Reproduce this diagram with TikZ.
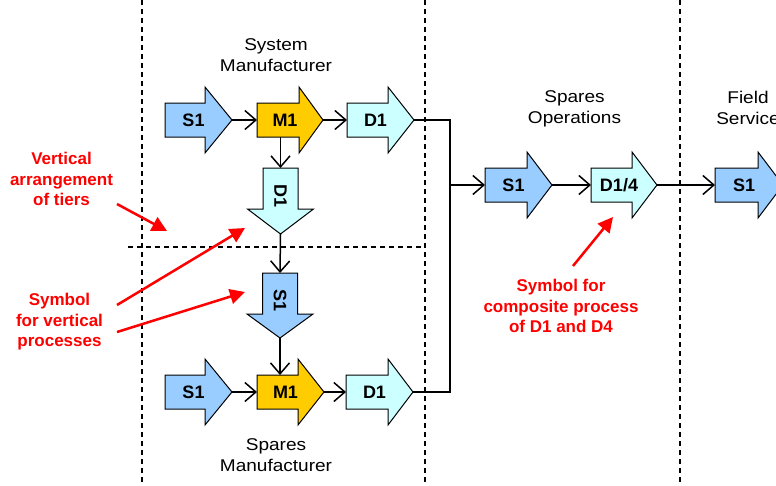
\documentclass[tikz,border=0pt]{standalone}
\usepackage{fontspec}
\setmainfont{Liberation Sans}
\newfontfamily\titlefont[FakeStretch=1.12]{Liberation Sans}
\usetikzlibrary{arrows.meta}
\definecolor{cS}{HTML}{99CCFF}
\definecolor{cM}{HTML}{FFCC00}
\definecolor{cD}{HTML}{CCFFFF}
\definecolor{cR}{HTML}{FF0000}
\tikzset{
  shapeline/.style={draw=black, line width=1pt, line join=miter},
  lbl/.style={font=\fontsize{18}{20}\selectfont\bfseries, inner sep=0pt},
  box/.style={inner sep=0pt, outer sep=0pt},
  conn/.style={line width=1.5pt, -{Straight Barb[length=11pt,width=19pt,line width=1.5pt]}},
  plain/.style={line width=1.5pt},
  divider/.style={line width=1.2pt, dash pattern=on 5pt off 4pt},
  title/.style={font=\titlefont\fontsize{17}{21}\selectfont, align=center, inner sep=0pt},
  note/.style={font=\fontsize{17}{20.5}\selectfont\bfseries, text=cR, align=center, inner sep=0pt},
  redarrow/.style={draw=cR, line width=2.5pt, -{Triangle[length=15pt,width=15pt]}},
}
% horizontal block arrow: name, x0, x1 (head start), x2 (tip), y, fill, text
\newcommand{\harr}[7]{%
  \draw[shapeline, fill=#6] (#2,{#5-17}) -- (#3,{#5-17}) -- (#3,{#5-33}) -- (#4,#5)
     -- (#3,{#5+33}) -- (#3,{#5+17}) -- (#2,{#5+17}) -- cycle;
  \node[box, minimum width={#4-#2}, minimum height=66] (#1) at ({(#2+#4)/2},#5) {};
  \node[box, minimum width={#3-#2}, minimum height=34] (#1b) at ({(#2+#3)/2},#5) {};
  \node[lbl] (#1l) at ({(#2+#4)/2-5},#5) {#7};
}
% vertical block arrow: name, x, y0, y1 (head start), y2 (tip), fill, text
\newcommand{\varr}[7]{%
  \draw[shapeline, fill=#6] ({#2-17.5},#3) -- ({#2-17.5},#4) -- ({#2-33},#4) -- (#2,#5)
     -- ({#2+33},#4) -- ({#2+17.5},#4) -- ({#2+17.5},#3) -- cycle;
  \node[box, minimum width=66, minimum height={#5-#3}] (#1) at (#2,{(#3+#5)/2}) {};
  \node[lbl, rotate=-90] (#1l) at (#2,{(#3+#5)/2-5}) {#7};
}
\begin{document}
\begin{tikzpicture}[x=1pt, y=-1pt]
\useasboundingbox (0,0) rectangle (776,485);
\clip (0,0) rectangle (776,485);
\fill[white] (0,0) rectangle (776,485);

% dividers
\draw[divider] (142,0) -- (142,485);
\draw[divider] (425,0) -- (425,485);
\draw[divider] (680,0) -- (680,485);
\draw[divider] (128,247) -- (425,247);

% titles
\node[title] (tSM) at (276,55) {System\\Manufacturer};
\node[title] (tSO) at (574.5,109) {Spares\\Operations};
\node[title] (tFS) at (748,107.5) {Field\\Service};
\node[title] (tSP) at (276,455) {Spares\\Manufacturer};

% top row
\harr{s1t}{165}{205}{232}{120}{cS}{S1}
\harr{m1t}{257}{299}{323}{120}{cM}{M1}
\harr{d1t}{347}{388}{414}{120}{cD}{D1}
% vertical
\varr{d1v}{280.5}{168}{209}{234}{cD}{D1}
\varr{s1v}{280}{273}{314}{338}{cS}{S1}
% bottom row
\harr{s1b}{165}{205}{232}{392}{cS}{S1}
\harr{m1b}{257}{298}{324}{392}{cM}{M1}
\harr{d1b}{346}{388}{413}{392}{cD}{D1}
% spares operations
\harr{s1o}{485}{527}{552}{185}{cS}{S1}
\harr{d14}{591}{632}{657}{185}{cD}{D1/4}
% field service
\harr{s1f}{715}{758}{783}{185}{cS}{S1}

% connectors
\draw[conn] (s1t.east) -- (m1tb.west);
\draw[conn] (m1t.east) -- (d1tb.west);
\draw[conn] (m1tb.south -| d1v.north) -- (d1v.north);
\draw[conn] (d1v.south) -- (s1v.north);
\draw[conn] (s1v.south) -- (s1v.south |- m1bb.north);
\draw[conn] (s1b.east) -- (m1bb.west);
\draw[conn] (m1b.east) -- (d1bb.west);
\coordinate (bt) at (450,120);
\coordinate (bb) at (450,392);
\draw[plain] (d1t.east) -- (bt) -- (bb) -- (d1b.east);
\draw[conn] (bt |- s1o.west) -- (s1ob.west);
\draw[conn] (s1o.east) -- (d14b.west);
\draw[conn] (d14.east) -- (s1fb.west);

% annotations
\node[note] (n1) at (61.5,179) {Vertical\\arrangement\\of tiers};
\node[note] (n2) at (59.5,322) {Symbol\\for vertical\\processes};
\node[note] (n3) at (561,306) {Symbol for\\composite process\\of D1 and D4};
\coordinate (a1s) at (117,204); \coordinate (a1e) at (167,231);
\coordinate (a2s) at (117,305); \coordinate (a2e) at (245,228);
\coordinate (a3s) at (117,332); \coordinate (a3e) at (245,292);
\coordinate (a4s) at (573,266); \coordinate (a4e) at (613,217);
\draw[redarrow] (a1s) -- (a1e);
\draw[redarrow] (a2s) -- (a2e);
\draw[redarrow] (a3s) -- (a3e);
\draw[redarrow] (a4s) -- (a4e);
\end{tikzpicture}
\end{document}
